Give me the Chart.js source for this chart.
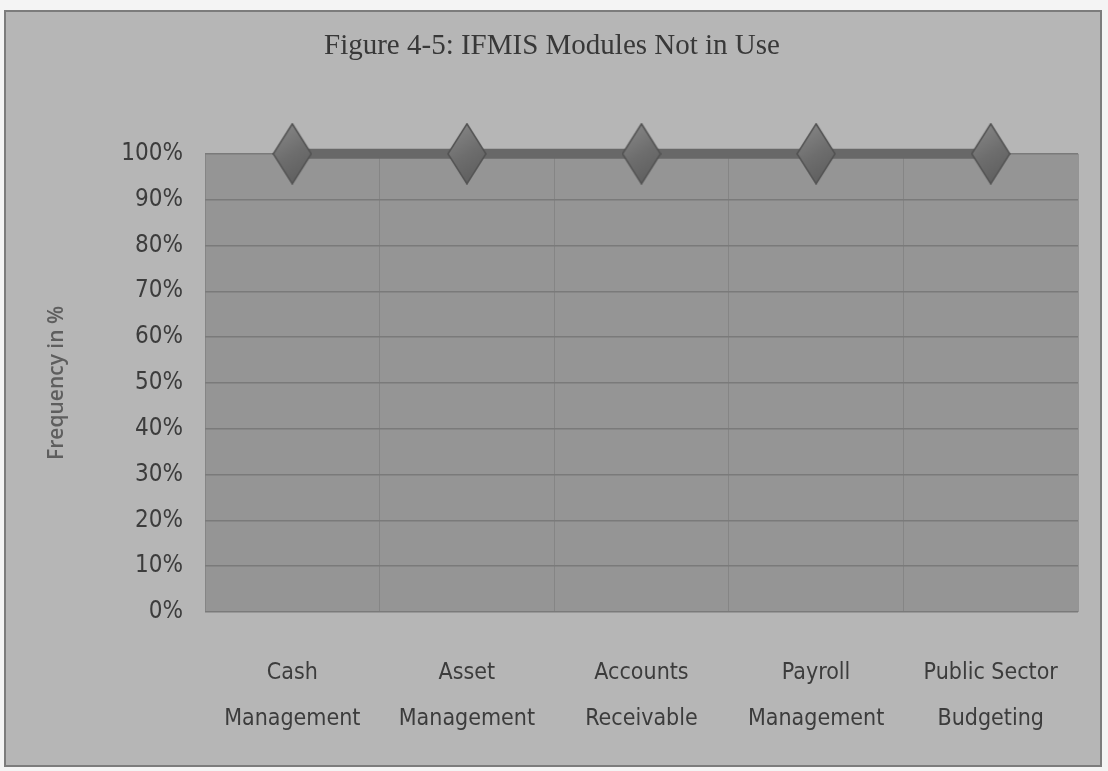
<!DOCTYPE html>
<html>
<head>
<meta charset="utf-8">
<script src="https://cdn.jsdelivr.net/npm/chart.js@4/dist/chart.umd.min.js"></script>
<style>
  html, body { margin: 0; padding: 0; background: #f4f4f4; }
  #wrap { position: absolute; left: 0; top: 0; width: 1108px; height: 771px; }
  canvas { filter: blur(0.45px); }
</style>
</head>
<body>
<div id="wrap"><canvas id="chart" width="1108" height="771"></canvas></div>
<script>
// IFMIS modules reported as not in use
const categories = [
  ['Cash', 'Management'],
  ['Asset', 'Management'],
  ['Accounts', 'Receivable'],
  ['Payroll', 'Management'],
  ['Public Sector', 'Budgeting']
];
const notInUse = [100, 100, 100, 100, 100];
const chartTitle = 'Figure 4-5: IFMIS Modules Not in Use';
const yAxisTitle = 'Frequency in %';

const narrow = "'Liberation Sans Narrow', 'DejaVu Sans Condensed', sans-serif";

// diamond marker, taller than wide
function makeDiamond(w, h) {
  const c = document.createElement('canvas');
  c.width = w; c.height = h;
  const g = c.getContext('2d');
  const grad = g.createLinearGradient(0, 0, w, h);
  grad.addColorStop(0, '#8c8c8c');
  grad.addColorStop(0.5, '#6e6e6e');
  grad.addColorStop(1, '#5a5a5a');
  g.beginPath();
  g.moveTo(w / 2, 1);
  g.lineTo(w - 1, h / 2);
  g.lineTo(w / 2, h - 1);
  g.lineTo(1, h / 2);
  g.closePath();
  g.fillStyle = grad;
  g.fill();
  g.lineWidth = 1.5;
  g.strokeStyle = '#525252';
  g.stroke();
  return c;
}
const diamond = makeDiamond(40, 62);

// page frame and plot-area fill
const backdrop = {
  id: 'backdrop',
  beforeDraw(chart) {
    const { ctx, chartArea: a } = chart;
    ctx.save();
    ctx.fillStyle = '#f4f4f4';
    ctx.fillRect(0, 0, chart.width, chart.height);
    ctx.fillStyle = '#b6b6b6';
    ctx.fillRect(5, 11, 1096, 755);
    ctx.strokeStyle = '#7c7c7c';
    ctx.lineWidth = 2;
    ctx.strokeRect(5, 11, 1096, 755);
    ctx.fillStyle = '#959595';
    ctx.fillRect(a.left, a.top, a.right - a.left, a.bottom - a.top);
    ctx.restore();
  }
};

new Chart(document.getElementById('chart'), {
  type: 'line',
  data: {
    labels: categories,
    datasets: [{
      data: notInUse,
      borderColor: '#686868',
      borderWidth: 10,
      pointStyle: diamond,
      pointRadius: 20,
      tension: 0,
      clip: false
    }]
  },
  options: {
    responsive: false,
    animation: false,
    layout: { padding: { left: 20, right: 24, top: 0, bottom: 21 } },
    plugins: {
      legend: { display: false },
      tooltip: { enabled: false },
      title: {
        display: true,
        text: chartTitle,
        color: '#383838',
        font: { family: "'Liberation Serif', serif", size: 29, weight: 'normal' },
        padding: { top: 29, bottom: 90 }
      }
    },
    scales: {
      x: {
        offset: true,
        grid: { offset: true, color: 'rgba(120,120,120,0.55)', lineWidth: 1, drawTicks: false },
        border: { display: false },
        ticks: {
          color: '#3c3c3c',
          padding: 38,
          font: { family: narrow, size: 23, lineHeight: 2.0 },
          maxRotation: 0
        },
        afterFit(s) { s.height = 138; }
      },
      y: {
        min: 0,
        max: 100,
        grid: { color: '#7a7a7a', lineWidth: 1.5, drawTicks: false },
        border: { display: false },
        ticks: {
          stepSize: 10,
          color: '#3c3c3c',
          padding: 22,
          font: { family: narrow, size: 24 },
          callback: v => v + '%'
        },
        title: {
          display: true,
          text: yAxisTitle,
          color: '#5e5e5e',
          font: { family: "'Open Sans', sans-serif", size: 21, weight: '600' },
          padding: { top: 24, bottom: 0 }
        },
        afterFit(s) { s.width = 185; }
      }
    }
  },
  plugins: [backdrop]
});
</script>
</body>
</html>
